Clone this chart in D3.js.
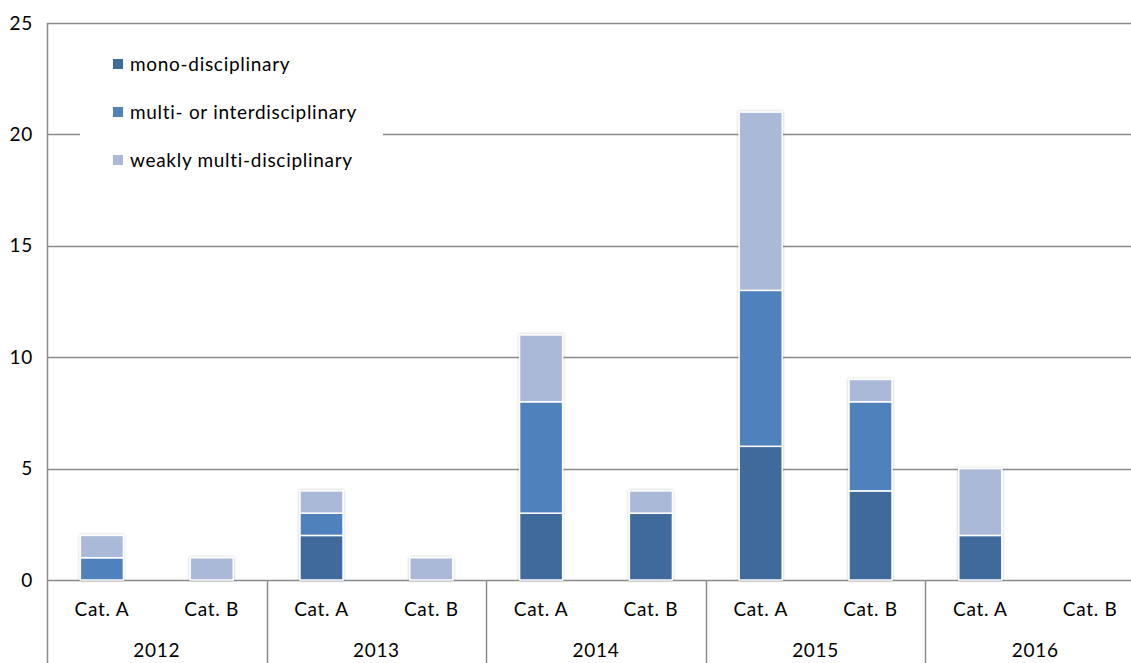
<!DOCTYPE html>
<html>
<head>
<meta charset="utf-8">
<script src="https://cdn.jsdelivr.net/npm/d3@7"></script>
<style>
  html, body { margin: 0; padding: 0; background: #fff; }
  svg { display: block; font-family: Lato, "Open Sans", sans-serif; }
</style>
</head>
<body>
<svg id="chart" width="1131" height="663"></svg>
<script>
// Publications per year and category, split by disciplinary profile
const years = ["2012", "2013", "2014", "2015", "2016"];
const cats = ["Cat. A", "Cat. B"];
const seriesNames = ["mono-disciplinary", "multi- or interdisciplinary", "weakly multi-disciplinary"];
// values listed as 2012 A, 2012 B, 2013 A, 2013 B, ...
const mono  = [0, 0, 2, 0, 3, 3, 6, 4, 2, 0];
const multi = [1, 0, 1, 0, 5, 0, 7, 4, 0, 0];
const weak  = [1, 1, 1, 1, 3, 1, 8, 1, 3, 0];
const yTicks = [0, 5, 10, 15, 20, 25];
const colors = ["#406a9b", "#4f81bd", "#a9b9d7"];

const svg = d3.select("#chart");
const x0 = 47, groupW = 219.6;
const yTop = 23, yBase = 580, H = 663;
const fs = 19, ls = "0.7px";

const slots = [];
years.forEach(y => cats.forEach(c => slots.push(y + "|" + c)));
const rows = slots.map((k, i) => ({ key: k, mono: mono[i], multi: multi[i], weak: weak[i] }));

const x = d3.scaleBand().domain(slots).range([x0, x0 + groupW * years.length])
  .paddingInner(0.608).paddingOuter(0.304);
const y = d3.scaleLinear().domain([0, 25]).range([yBase, yTop]);

const grid = "#8a8a8a";

// horizontal gridlines
svg.append("g").selectAll("line").data(yTicks).join("line")
  .attr("x1", x0).attr("x2", 1131)
  .attr("y1", d => Math.round(y(d)) + 0.5).attr("y2", d => Math.round(y(d)) + 0.5)
  .attr("stroke", grid).attr("stroke-width", 1.5);

// y tick labels
svg.append("g").selectAll("text").data(yTicks).join("text")
  .attr("x", 33).attr("y", d => y(d) + 6.5)
  .attr("text-anchor", "end").attr("font-size", fs).attr("letter-spacing", ls).attr("fill", "#000")
  .text(d => d);

// soft shadow behind bars
const defs = svg.append("defs");
const f = defs.append("filter").attr("id", "sh").attr("x", "-20%").attr("y", "-20%").attr("width", "140%").attr("height", "140%");
f.append("feGaussianBlur").attr("in", "SourceAlpha").attr("stdDeviation", 1.5).attr("result", "b");
f.append("feComponentTransfer").attr("in", "b").attr("result", "b2")
  .append("feFuncA").attr("type", "linear").attr("slope", 0.25);
const m = f.append("feMerge");
m.append("feMergeNode").attr("in", "b2");
m.append("feMergeNode").attr("in", "SourceGraphic");

// stacked bars
const stack = d3.stack().keys(["mono", "multi", "weak"]);
const stacked = stack(rows);
const barG = svg.append("g").attr("filter", "url(#sh)");
stacked.forEach((layer, li) => {
  barG.append("g").selectAll("rect")
    .data(layer.filter(d => d[1] - d[0] > 0)).join("rect")
    .attr("x", d => x(d.data.key))
    .attr("width", x.bandwidth())
    .attr("y", d => y(d[1]))
    .attr("height", d => y(d[0]) - y(d[1]))
    .attr("fill", colors[li])
    .attr("stroke", "#fff").attr("stroke-width", 1.5);
});

// left axis line
svg.append("line").attr("x1", x0 + 0.5).attr("x2", x0 + 0.5).attr("y1", yTop).attr("y2", H)
  .attr("stroke", grid).attr("stroke-width", 1.5);

// group separators below the baseline
svg.append("g").selectAll("line").data(years.slice(1)).join("line")
  .attr("x1", (d, i) => Math.round(x0 + groupW * (i + 1)) + 0.5)
  .attr("x2", (d, i) => Math.round(x0 + groupW * (i + 1)) + 0.5)
  .attr("y1", yBase).attr("y2", H)
  .attr("stroke", grid).attr("stroke-width", 1.5);

// category labels
svg.append("g").selectAll("text").data(slots).join("text")
  .attr("x", d => x(d) + x.bandwidth() / 2).attr("y", 616)
  .attr("text-anchor", "middle").attr("font-size", fs).attr("letter-spacing", ls).attr("fill", "#000")
  .text(d => d.split("|")[1]);

// year labels
svg.append("g").selectAll("text").data(years).join("text")
  .attr("x", (d, i) => x0 + groupW * (i + 0.5)).attr("y", 657)
  .attr("text-anchor", "middle").attr("font-size", fs).attr("letter-spacing", ls).attr("fill", "#000")
  .text(d => d);

// legend
const leg = svg.append("g");
leg.append("rect").attr("x", 80).attr("y", 38).attr("width", 303).attr("height", 146).attr("fill", "#fff");
seriesNames.forEach((name, i) => {
  const base = 71 + i * 48;
  leg.append("rect").attr("x", 113).attr("y", base - 12).attr("width", 10).attr("height", 10).attr("fill", colors[i]);
  leg.append("text").attr("x", 130).attr("y", base)
    .attr("font-size", fs).attr("letter-spacing", ls).attr("fill", "#000").text(name);
});
</script>
</body>
</html>
